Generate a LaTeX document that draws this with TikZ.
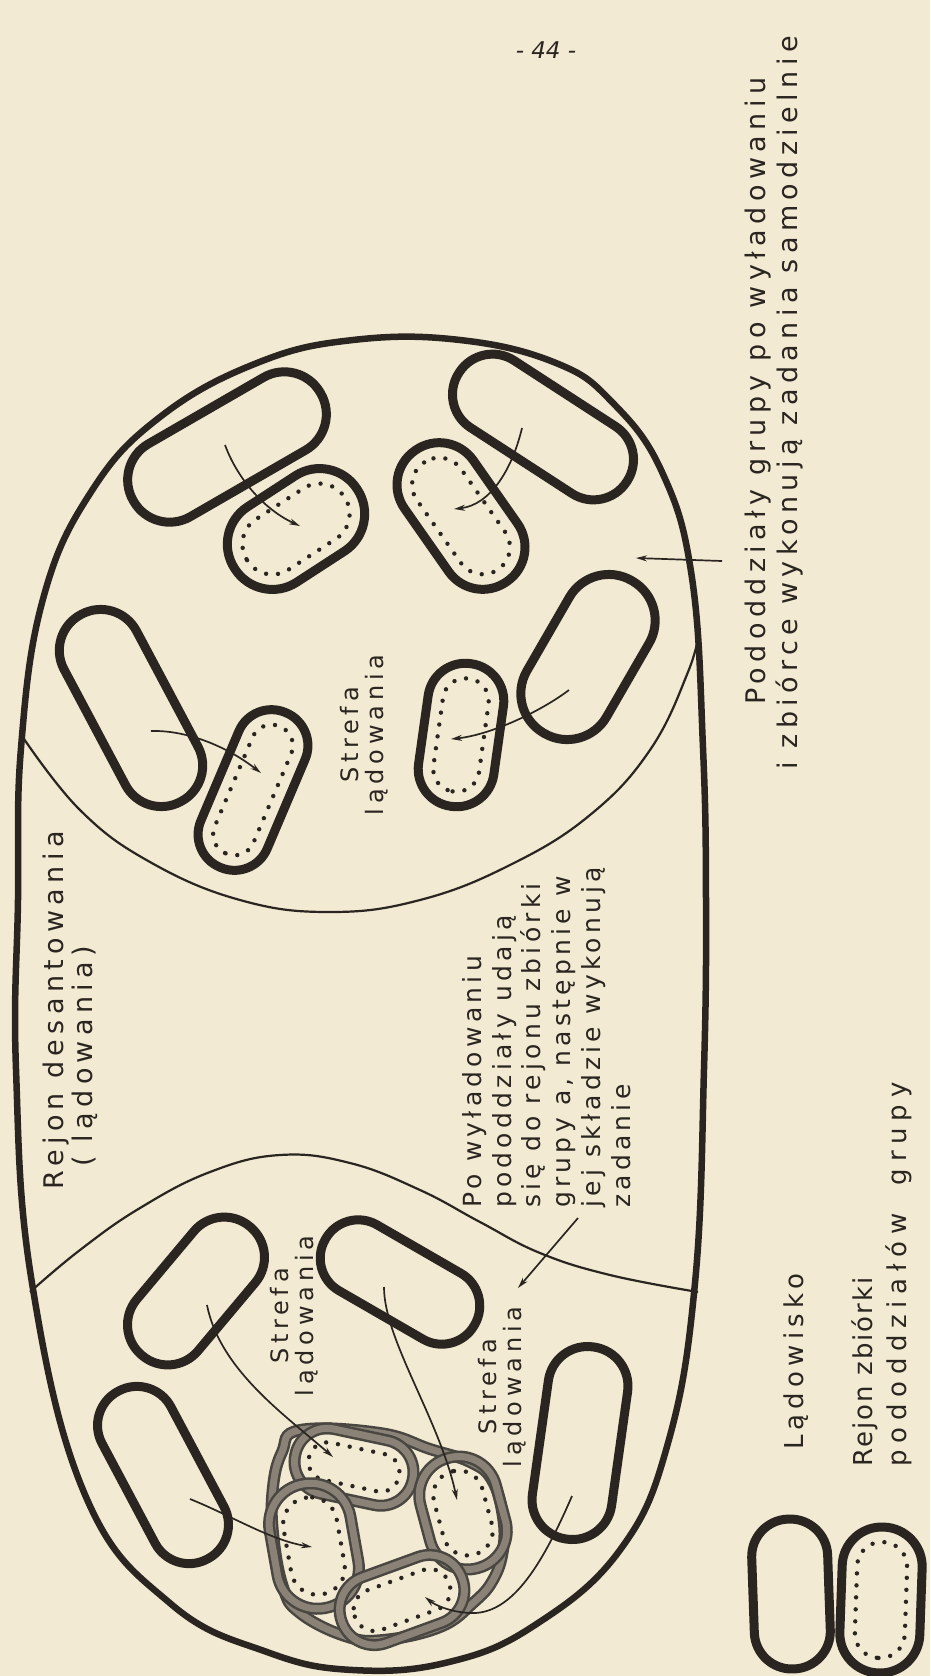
\documentclass[tikz,border=0pt]{standalone}
\usepackage{fontspec}
\setmainfont{DejaVu Sans}
\newfontfamily\handfont[LetterSpace=20]{DejaVu Sans}
\newfontfamily\handfontb[LetterSpace=17]{DejaVu Sans}
\newfontfamily\handfontc[LetterSpace=8]{DejaVu Sans}
\newfontfamily\handfontd[LetterSpace=26]{DejaVu Sans}
\usetikzlibrary{arrows.meta}
\definecolor{paper}{HTML}{F2EAD2}
\definecolor{ink}{HTML}{2A2520}
\definecolor{band}{HTML}{8A8277}
\tikzset{
 podline/.style={draw=ink,line width=9pt},
 dotline/.style={draw=ink,line width=4.4pt,line cap=round,dash pattern=on 0pt off 12pt},
 bandout/.style={draw=ink!85,line width=12pt},
 bandin/.style={draw=band,line width=7pt},
 zone/.style={draw=ink,line width=2.2pt},
 rim/.style={draw=ink,line width=6.5pt},
 arr/.style={draw=ink,line width=1.7pt,-{Stealth[length=11pt,width=6pt]}},
 lbl/.style={font=\handfont\fontsize{27}{32}\selectfont,text=ink,inner sep=0pt},
 lbls/.style={font=\handfont\fontsize{24}{25}\selectfont,text=ink,inner sep=0pt},
}
\newcommand\drawpod[6]{%
 \coordinate (#1) at (#2,#3);
 \begin{scope}[shift={(#2,#3)},rotate=#4]
 \draw[podline,rounded corners=#6pt-0.5pt] (-#5,-#6) rectangle (#5,#6);
 \end{scope}}
\newcommand\drawdpod[6]{%
 \drawpod{#1}{#2}{#3}{#4}{#5}{#6}%
 \begin{scope}[shift={(#2,#3)},rotate=#4]
 \draw[dotline,rounded corners=#6pt-15.5pt] ({-#5+15},{-#6+15}) rectangle ({#5-15},{#6-15});
 \end{scope}}
\newcommand\drawcpod[6]{%
 \coordinate (#1) at (#2,#3);
 \begin{scope}[shift={(#2,#3)},rotate=#4]
 \draw[bandout,rounded corners=#6pt-0.5pt] (-#5,-#6) rectangle (#5,#6);
 \draw[bandin,rounded corners=#6pt-0.5pt] (-#5,-#6) rectangle (#5,#6);
 \draw[dotline,rounded corners=#6pt-14.5pt] ({-#5+14},{-#6+14}) rectangle ({#5-14},{#6-14});
 \end{scope}}
\begin{document}
\begin{tikzpicture}[x=1pt,y=-1pt]
\fill[paper] (0,0) rectangle (930,1676);
\useasboundingbox (0,0) rectangle (930,1676);

% outer boundary (Rejon desantowania)
\draw[rim] plot[smooth cycle,tension=0.7] coordinates {
 (21,748) (43,599) (91,492) (160,417) (257,363) (353,340) (460,340) (556,363)
 (612,402) (662,472) (692,578) (703,748) (706,900) (704,1069) (695,1283)
 (668,1443) (620,1550) (535,1625) (449,1662) (353,1670) (267,1652) (171,1604)
 (86,1497) (32,1283) (16,1069) (18,900)};

% landing zones
\draw[zone] plot[smooth,tension=0.7] coordinates {(22,736) (80,810) (150,862) (240,900)
 (330,912) (420,900) (510,865) (590,815) (650,750) (688,672) (700,628)};
\draw[zone] plot[smooth,tension=0.7] coordinates {(30,1292) (80,1250) (140,1208) (210,1172)
 (280,1155) (350,1163) (420,1190) (480,1222) (540,1253) (610,1275) (698,1292)};

% upper zone pods
\drawpod{p1}{227}{447}{30}{108}{42}
\drawdpod{p2}{296}{529}{33}{73}{45}
\drawpod{p3}{543}{427}{-33}{100}{40}
\drawdpod{p4}{461}{516}{-55}{80}{42}
\drawpod{p5}{131}{708}{-62}{106}{41}
\drawdpod{p6}{253}{790}{67}{84}{36}
\drawpod{p7}{588}{657}{60}{88}{46}
\drawdpod{p8}{461}{735}{82}{72}{38}

% lower zone pods
\drawpod{q1}{196}{1291}{50}{84}{40}
\drawpod{q2}{400}{1282}{-30}{86}{38}
\drawpod{q3}{163}{1475}{-62}{95}{39}
\drawpod{q4}{580}{1443}{82}{97}{40}

% assembly area cluster
\draw[bandout] plot[smooth cycle,tension=0.7] coordinates {(300,1430) (380,1433) (430,1449)
 (470,1462) (492,1480) (503,1517) (503,1550) (493,1580) (473,1603) (440,1627) (383,1640)
 (345,1636) (300,1613) (283,1587) (273,1533) (273,1487) (282,1452)};
\draw[bandin] plot[smooth cycle,tension=0.7] coordinates {(300,1430) (380,1433) (430,1449)
 (470,1462) (492,1480) (503,1517) (503,1550) (493,1580) (473,1603) (440,1627) (383,1640)
 (345,1636) (300,1613) (283,1587) (273,1533) (273,1487) (282,1452)};
\drawcpod{c1}{354}{1467}{-12}{60}{33}
\drawcpod{c2}{314}{1546}{-80}{63}{41}
\drawcpod{c3}{463}{1513}{-75}{57}{39}
\drawcpod{c4}{402}{1600}{20}{64}{35}

% legend pods
\drawpod{lg1}{791}{1594}{92}{75}{38}
\drawdpod{lg2}{881}{1600}{88}{73}{40}

% arrow end points
\coordinate (a1s) at (225,445); \coordinate (a1e) at (300,526);
\coordinate (a2s) at (522,428); \coordinate (a2e) at (454,509);
\coordinate (a3s) at (151,731); \coordinate (a3e) at (261,773);
\coordinate (a4s) at (569,690); \coordinate (a4e) at (451,739);
\coordinate (a5s) at (722,561); \coordinate (a5e) at (636,558);
\coordinate (b1s) at (207,1305); \coordinate (b1e) at (333,1457);
\coordinate (b2s) at (384,1287); \coordinate (b2e) at (457,1500);
\coordinate (b3s) at (190,1499); \coordinate (b3e) at (312,1547);
\coordinate (b4s) at (572,1496); \coordinate (b4m) at (470,1613); \coordinate (b4e) at (425,1597);
\coordinate (ns) at (578,1218); \coordinate (ne) at (518,1288);

\draw[arr] (a1s) .. controls (238,480) and (265,510) .. (a1e);
\draw[arr] (a2s) .. controls (512,470) and (490,505) .. (a2e);
\draw[arr] (a3s) .. controls (185,730) and (225,745) .. (a3e);
\draw[arr] (a4s) .. controls (540,712) and (490,735) .. (a4e);
\draw[arr] (a5s) -- (a5e);
\draw[arr] (b1s) .. controls (220,1370) and (285,1415) .. (b1e);
\draw[arr] (b2s) .. controls (384,1340) and (440,1420) .. (b2e);
\draw[arr] (b3s) .. controls (230,1515) and (270,1540) .. (b3e);
\draw[arr] (b4s) .. controls (540,1570) and (510,1615) .. (b4m) .. controls (450,1612) and (435,1605) .. (b4e);
\draw[arr] (ns) -- (ne);

% texts
\node[font=\itshape\fontsize{23}{24}\selectfont,text=ink] (pg) at (546,50) {- 44 -};
\node[lbl,rotate=90,anchor=base west] (t1) at (765,705) {Pododdziały grupy po wyładowaniu};
\node[lbl,rotate=90,anchor=base west] (t2) at (797,770) {i zbiórce wykonują zadania samodzielnie};
\node[lbl,rotate=90,anchor=base west] (t3) at (63,1190) {Rejon desantowania};
\node[lbl,rotate=90,anchor=base west] (t4) at (92,1167) {( lądowania)};
\node[rotate=90,anchor=north west,align=left,inner sep=0pt,text=ink,font=\handfontb\fontsize{25}{29.8}\selectfont] (t5) at (462,1208)
 {Po wyładowaniu\\pododdziały udają\\się do rejonu zbiórki\\grupy a, następnie w\\jej składzie wykonują\\zadanie};
\node[lbls,rotate=90,align=center] (s1) at (364,735) {Strefa\\lądowania};
\node[lbls,rotate=90,align=center] (s2) at (294,1316) {Strefa\\lądowania};
\node[lbls,rotate=90,align=center] (s3) at (502,1387) {Strefa\\lądowania};
\node[lbl,rotate=90,anchor=base west,font=\handfont\fontsize{26}{32}\selectfont] (l1) at (803,1450) {Lądowisko};
\node[rotate=90,anchor=north west,align=left,inner sep=0pt,text=ink,font=\handfontd\fontsize{26}{34}\selectfont] (l2) at (851,1467)
 {{\handfontc Rejon zbiórki}\\pododdziałów\hspace{0.5em} grupy};
\end{tikzpicture}
\end{document}
